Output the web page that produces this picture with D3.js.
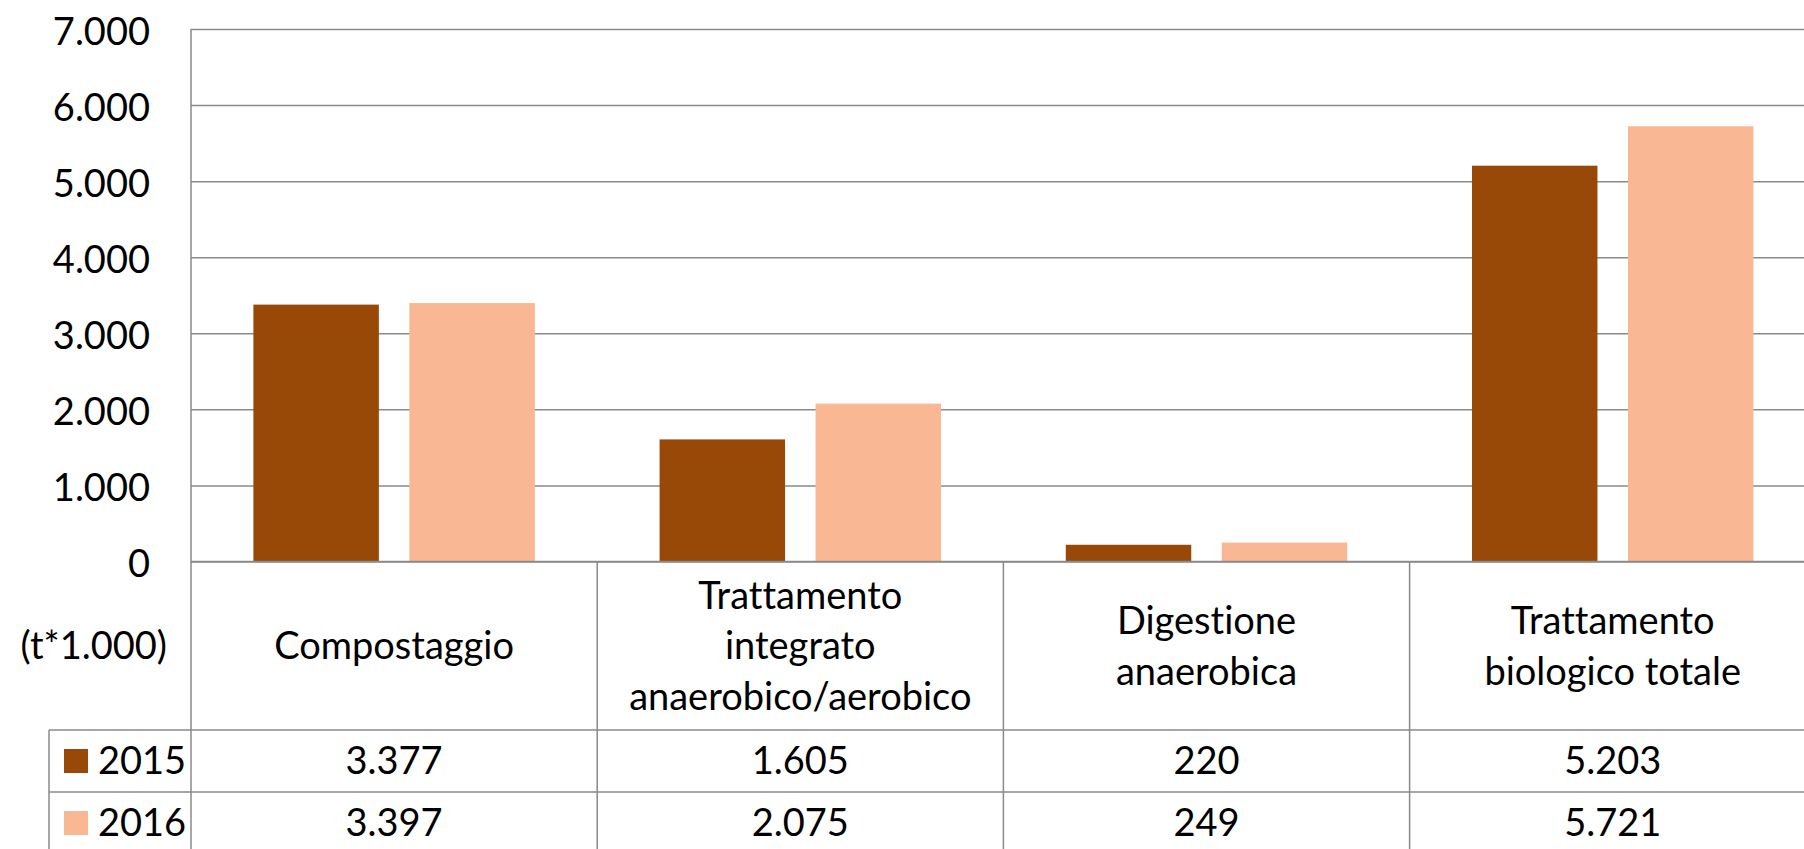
<!DOCTYPE html>
<html><head><meta charset="utf-8">
<script src="https://cdn.jsdelivr.net/npm/d3@7"></script>
<style>
body{margin:0;background:#fff}
svg{display:block}
text{font-family:Lato,'Open Sans',sans-serif;fill:#000;font-variant-ligatures:none;font-feature-settings:"liga" 0,"dlig" 0}
</style>
</head><body>
<svg id="chart" width="1804" height="849"></svg>
<script>
// ---- data ----
const categories = ["Compostaggio", "Trattamento\nintegrato\nanaerobico/aerobico", "Digestione\nanaerobica", "Trattamento\nbiologico totale"];
const years = ["2015", "2016"];
const values2015 = [3377, 1605, 220, 5203];
const values2016 = [3397, 2075, 249, 5721];
const yTicks = [0, 1000, 2000, 3000, 4000, 5000, 6000, 7000];
const unitLabel = "(t*1.000)";
const seriesColors = ["#984807", "#F9B793"];

// ---- layout ----
const W = 1804, H = 849;
const plotLeft = 191, plotTop = 29, zeroY = 561.5;
const bandW = 406.2;
const headerBottom = 730, rowH = 62, legendLeft = 49;
const fs = 38, lineGap = 50.6, gridColor = "#8a8a8a";

const it = d3.formatLocale({decimal: ",", thousands: ".", grouping: [3], currency: ["€", ""]});
const fmt = it.format(",d");

const svg = d3.select("#chart");
const y = d3.scaleLinear().domain([0, 7000]).range([zeroY, plotTop]);
const x0 = d3.scaleBand().domain(categories).range([plotLeft, plotLeft + bandW * categories.length]);
const x1 = d3.scaleBand().domain(years).range([0, x0.bandwidth()]).paddingInner(0.1955).paddingOuter(0.4);

// grid + y axis
const yAxis = d3.axisLeft(y).tickValues(yTicks).tickFormat(fmt)
  .tickSizeInner(-(W - plotLeft)).tickSizeOuter(0).tickPadding(41);
const ga = svg.append("g").attr("transform", `translate(${plotLeft},0)`).call(yAxis);
ga.select(".domain").remove();
ga.selectAll(".tick line").attr("stroke", gridColor).attr("stroke-width", 1.5);
ga.selectAll(".tick text").attr("font-size", fs).attr("font-family", "Lato,'Open Sans',sans-serif")
  .attr("fill", "#000").attr("dy", null).attr("y", 0).attr("dominant-baseline", "central");

// bars
const series = [values2015, values2016];
const g = svg.append("g");
categories.forEach((c, i) => {
  years.forEach((yr, j) => {
    const v = series[j][i];
    g.append("rect")
      .attr("x", x0(c) + x1(yr))
      .attr("y", y(v))
      .attr("width", x1.bandwidth())
      .attr("height", y(0) - y(v))
      .attr("fill", seriesColors[j]);
  });
});

// table lines
const tl = svg.append("g").attr("stroke", gridColor).attr("stroke-width", 1.5);
tl.append("line").attr("x1", plotLeft).attr("x2", W).attr("y1", zeroY).attr("y2", zeroY);
[headerBottom, headerBottom + rowH, headerBottom + 2 * rowH].forEach(yy => {
  tl.append("line").attr("x1", legendLeft).attr("x2", W).attr("y1", yy).attr("y2", yy);
});
tl.append("line").attr("x1", plotLeft).attr("x2", plotLeft).attr("y1", plotTop).attr("y2", H);
tl.append("line").attr("x1", legendLeft).attr("x2", legendLeft).attr("y1", headerBottom).attr("y2", H);
categories.forEach(c => {
  const xx = x0(c) + x0.bandwidth();
  tl.append("line").attr("x1", xx).attr("x2", xx).attr("y1", zeroY).attr("y2", H);
});

// header texts
const headerCenter = (zeroY + headerBottom) / 2;
categories.forEach(c => {
  const lines = c.split("\n");
  const t = svg.append("text").attr("text-anchor", "middle").attr("font-size", fs);
  lines.forEach((ln, k) => {
    t.append("tspan")
      .attr("x", x0(c) + x0.bandwidth() / 2)
      .attr("y", headerCenter + (k - (lines.length - 1) / 2) * lineGap + 13.5)
      .text(ln);
  });
});

// unit label
svg.append("text").attr("text-anchor", "end").attr("font-size", fs)
  .attr("x", 167).attr("y", headerCenter + 13.5).text(unitLabel);

// data rows
years.forEach((yr, j) => {
  const cy = headerBottom + rowH * j + rowH / 2;
  svg.append("rect").attr("x", 64).attr("y", cy - 12).attr("width", 24).attr("height", 24)
    .attr("fill", seriesColors[j]);
  svg.append("text").attr("font-size", fs).attr("x", 98).attr("y", cy + 13).text(yr);
  categories.forEach((c, i) => {
    svg.append("text").attr("text-anchor", "middle").attr("font-size", fs)
      .attr("x", x0(c) + x0.bandwidth() / 2).attr("y", cy + 13).text(fmt(series[j][i]));
  });
});
</script>
</body></html>
